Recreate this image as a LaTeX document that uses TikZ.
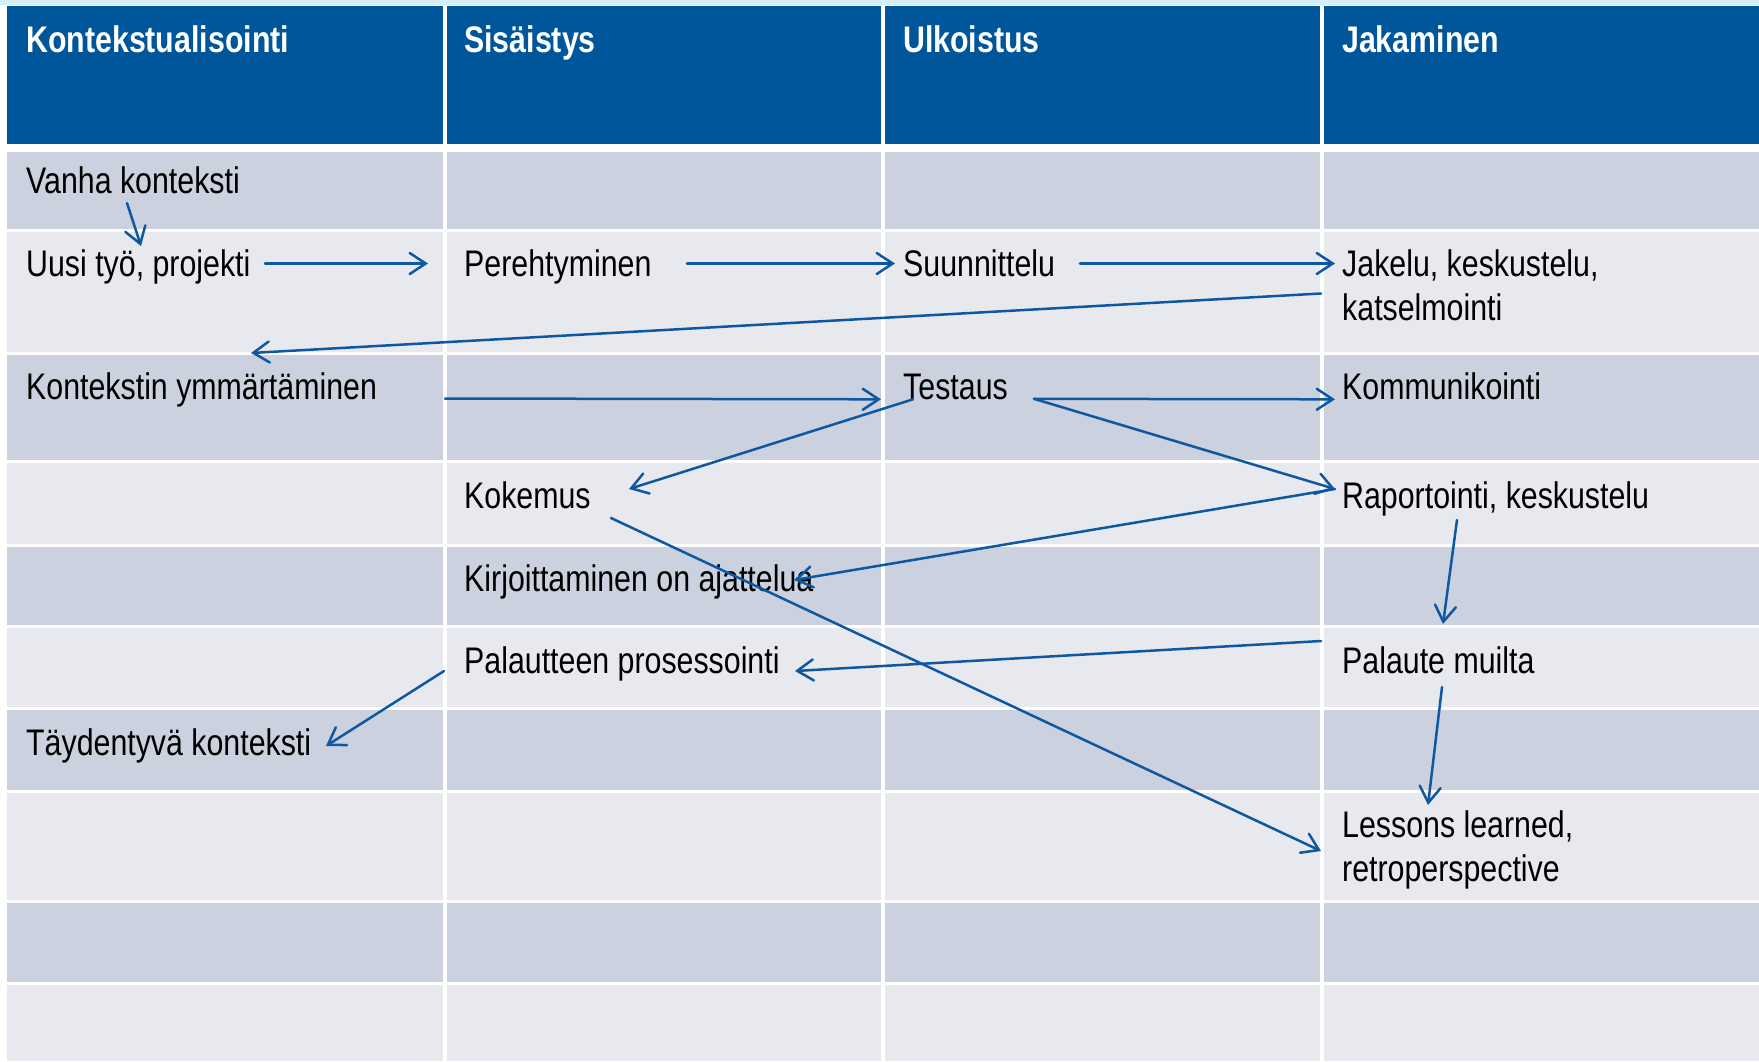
\documentclass[tikz,border=0pt]{standalone}
\usepackage{fontspec}
\setmainfont{Liberation Sans}[FakeStretch=0.82]
\usetikzlibrary{arrows.meta}
\definecolor{hdrblue}{RGB}{0,86,155}
\definecolor{rowdark}{RGB}{203,209,223}
\definecolor{rowlight}{RGB}{232,233,239}
\definecolor{arrowblue}{RGB}{14,88,162}
\definecolor{topstrip}{RGB}{214,238,250}
\begin{document}
\begin{tikzpicture}[x=1pt,y=-1pt,
  lbl/.style={anchor=base west, inner sep=0pt, text=black, font=\fontsize{37}{44}\selectfont},
  hdr/.style={anchor=base west, inner sep=0pt, text=white, font=\fontsize{37}{44}\selectfont\bfseries},
  flow/.style={draw=arrowblue, line width=2.5pt, line cap=round, line join=round,
               -{Straight Barb[length=16pt,width=21pt,line cap=round]}}]
\useasboundingbox (0,0) rectangle (1759,1061);
\fill[white] (0,0) rectangle (1759,1061);
\fill[topstrip] (0,0) rectangle (1759,5);
% header
\foreach \l/\r in {7/443, 447/881, 885/1320, 1324/1759}
  \fill[hdrblue] (\l,6) rectangle (\r,144);
% body rows
\foreach \t/\b/\c in {152/229/rowdark, 232/352/rowlight, 355/460/rowdark, 463/544/rowlight,
                      547/625/rowdark, 628/707/rowlight, 710/790/rowdark, 793/900/rowlight,
                      903/982/rowdark, 985/1061/rowlight}
  \foreach \l/\r in {7/443, 447/881, 885/1320, 1324/1759}
    \fill[\c] (\l,\t) rectangle (\r,\b);

% header texts
\node[hdr] (h1) at (26,52.7) {Kontekstualisointi};
\node[hdr] (h2) at (464,52.7) {Sisäistys};
\node[hdr] (h3) at (903,52.7) {Ulkoistus};
\node[hdr] (h4) at (1342,52.7) {Jakaminen};

% body texts
\node[lbl] (vanha) at (26,193.5) {Vanha konteksti};
\node[lbl] (uusi) at (26,276.7) {Uusi työ, projekti};
\node[lbl] (pereh) at (464,276.7) {Perehtyminen};
\node[lbl] (suun) at (903,276.7) {Suunnittelu};
\node[lbl] (jakelu) at (1342,276.7) {\parbox[t]{400pt}{\raggedright Jakelu, keskustelu,\\katselmointi}};
\node[lbl] (kont) at (26,399.3) {Kontekstin ymmärtäminen};
\node[lbl] (testaus) at (903,399.3) {Testaus};
\node[lbl] (kommun) at (1342,399.3) {Kommunikointi};
\node[lbl] (kokemus) at (464,508) {Kokemus};
\node[lbl] (raport) at (1342,508) {Raportointi, keskustelu};
\node[lbl] (kirj) at (464,591) {Kirjoittaminen on ajattelua};
\node[lbl] (palpros) at (464,673.3) {Palautteen prosessointi};
\node[lbl] (palmuilta) at (1342,673.3) {Palaute muilta};
\node[lbl] (tayd) at (26,755) {Täydentyvä konteksti};
\node[lbl] (lessons) at (1342,837.3) {\parbox[t]{400pt}{\raggedright Lessons learned,\\retroperspective}};

% connector end points
\coordinate (vanha-o) at (127,203);   \coordinate (uusi-i) at (141,246);
\coordinate (uusi-o) at (265,263.5);  \coordinate (pereh-i) at (428,263.5);
\coordinate (pereh-o) at (687,263.5); \coordinate (suun-i) at (895,263.5);
\coordinate (suun-o) at (1080,263.5); \coordinate (jakelu-i) at (1335,263.5);
\coordinate (jakelu-o) at (1321,293.5); \coordinate (kont-i) at (251,353);
\coordinate (kont-o) at (445,398.5);  \coordinate (testaus-i) at (881,399.3);
\coordinate (testaus-o1) at (913,399.3); \coordinate (kokemus-i) at (629,489);
\coordinate (testaus-o2) at (1034,398.8); \coordinate (kommun-i) at (1335,399.3);
\coordinate (raport-i) at (1335,489);
\coordinate (raport-o1) at (1335,489); \coordinate (kirj-i) at (794,580);
\coordinate (kokemus-o) at (611,518); \coordinate (lessons-i) at (1321,851);
\coordinate (raport-o2) at (1457,520); \coordinate (palmuilta-i) at (1443,624);
\coordinate (palmuilta-o1) at (1321,641); \coordinate (palpros-i) at (795,671);
\coordinate (palpros-o) at (444,671); \coordinate (tayd-i) at (326,746);
\coordinate (palmuilta-o2) at (1442,687); \coordinate (lessons-i2) at (1428,805);

% connectors
\draw[flow] (vanha-o) -- (uusi-i);
\draw[flow] (uusi-o) -- (pereh-i);
\draw[flow] (pereh-o) -- (suun-i);
\draw[flow] (suun-o) -- (jakelu-i);
\draw[flow] (jakelu-o) -- (kont-i);
\draw[flow] (kont-o) -- (testaus-i);
\draw[flow] (testaus-o1) -- (kokemus-i);
\draw[flow] (testaus-o2) -- (kommun-i);
\draw[flow] (testaus-o2) -- (raport-i);
\draw[flow] (raport-o1) -- (kirj-i);
\draw[flow] (kokemus-o) -- (lessons-i);
\draw[flow] (raport-o2) -- (palmuilta-i);
\draw[flow] (palmuilta-o1) -- (palpros-i);
\draw[flow] (palpros-o) -- (tayd-i);
\draw[flow] (palmuilta-o2) -- (lessons-i2);
\end{tikzpicture}
\end{document}
